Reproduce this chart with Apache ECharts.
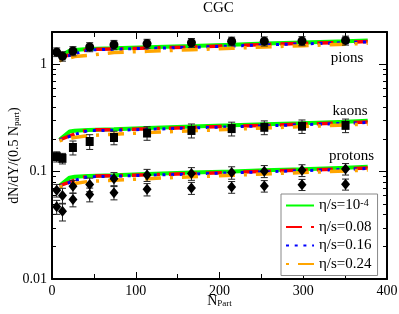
<!DOCTYPE html>
<html>
<head>
<meta charset="utf-8">
<script src="https://cdn.jsdelivr.net/npm/echarts@6/dist/echarts.min.js"></script>
<style>
html,body{margin:0;padding:0;background:#fff;}
#chart{width:399px;height:314px;}
</style>
</head>
<body>
<div id="chart"></div>
<script>
// ---- data ----
const npartData = [5.6, 12.5, 25, 45, 74, 113.5, 166.5, 214.5, 253.5, 298.5, 350.5];
const pions      = [1.30, 1.19, 1.33, 1.45, 1.52, 1.56, 1.59, 1.64, 1.64, 1.65, 1.67];
const pionsErr   = [0.12, 0.12, 0.13, 0.14, 0.15, 0.15, 0.15, 0.15, 0.16, 0.16, 0.16];
const kaons      = [0.138, 0.133, 0.168, 0.191, 0.208, 0.229, 0.242, 0.252, 0.259, 0.265, 0.270];
const kaonsErr   = [0.015, 0.015, 0.025, 0.030, 0.030, 0.033, 0.036, 0.037, 0.038, 0.038, 0.039];
const protons    = [0.067, 0.060, 0.073, 0.076, 0.086, 0.093, 0.096, 0.098, 0.101, 0.103, 0.106];
const protonsErr = [0.009, 0.010, 0.010, 0.011, 0.012, 0.012, 0.013, 0.013, 0.013, 0.013, 0.013];
const pbars      = [0.047, 0.0427, 0.055, 0.0613, 0.0636, 0.0684, 0.0704, 0.0719, 0.0735, 0.0757, 0.0763];
const pbarsErr   = [0.007, 0.008, 0.008, 0.009, 0.009, 0.009, 0.009, 0.009, 0.009, 0.009, 0.009];

const npartModel = [9, 21, 27, 43, 74, 114, 167, 215, 254, 299, 351, 377];
const etaNames = ['η/s=10-4', 'η/s=0.08', 'η/s=0.16', 'η/s=0.24'];
// model curves: [green, red, blue, orange]
const pionModel = [
  [1.18, 1.34, 1.36, 1.39, 1.41, 1.44, 1.48, 1.52, 1.56, 1.60, 1.64, 1.67],
  [1.17, 1.22, 1.26, 1.38, 1.39, 1.42, 1.45, 1.49, 1.53, 1.57, 1.60, 1.63],
  [1.16, 1.21, 1.25, 1.36, 1.38, 1.41, 1.44, 1.48, 1.52, 1.55, 1.59, 1.62],
  [1.08, 1.15, 1.18, 1.21, 1.29, 1.32, 1.37, 1.41, 1.45, 1.49, 1.54, 1.57]
];
const kaonModel = [
  [0.198, 0.237, 0.240, 0.244, 0.248, 0.255, 0.263, 0.270, 0.276, 0.283, 0.292, 0.298],
  [0.198, 0.215, 0.224, 0.245, 0.246, 0.251, 0.258, 0.265, 0.270, 0.277, 0.285, 0.290],
  [0.197, 0.213, 0.222, 0.241, 0.243, 0.248, 0.255, 0.262, 0.267, 0.274, 0.282, 0.287],
  [0.194, 0.203, 0.208, 0.217, 0.223, 0.231, 0.240, 0.248, 0.255, 0.263, 0.272, 0.278]
];
const protonModel = [
  [0.074, 0.088, 0.0895, 0.091, 0.0925, 0.095, 0.098, 0.1005, 0.103, 0.1055, 0.109, 0.111],
  [0.074, 0.080, 0.0835, 0.091, 0.0918, 0.0935, 0.096, 0.0985, 0.1007, 0.1033, 0.1063, 0.108],
  [0.0735, 0.0795, 0.083, 0.0895, 0.0908, 0.0925, 0.095, 0.0975, 0.0997, 0.1022, 0.105, 0.107],
  [0.0725, 0.0755, 0.0776, 0.081, 0.0832, 0.0861, 0.0895, 0.0924, 0.0952, 0.098, 0.1016, 0.1036]
];
const yMajor = [0.01, 0.1, 1];
const yMinor = [0.02,0.03,0.04,0.05,0.06,0.07,0.08,0.09,0.2,0.3,0.4,0.5,0.6,0.7,0.8,0.9,2];

// ---- styles ----
const FONT = '"Liberation Serif", "DejaVu Serif", serif';
const lineStyles = [
  {color: '#00ff00', width: 4, type: 'solid'},
  {color: '#ff0000', width: 3.5, type: [16, 9, 3, 9]},
  {color: '#0000ff', width: 3, type: [3, 5.7]},
  {color: '#ffa500', width: 3.5, type: [3, 9, 16, 9]}
];

const chart = echarts.init(document.getElementById('chart'), null, {renderer: 'canvas'});

const series = [];
const models = [pionModel, kaonModel, protonModel];
for (let e = 0; e < 4; e++) {
  for (let s = 0; s < 3; s++) {
    series.push({
      type: 'line', name: etaNames[e], xAxisIndex: 0, yAxisIndex: 0,
      symbol: 'none', showSymbol: false, silent: true, z: 2 + e * 0.01,
      lineStyle: Object.assign({}, lineStyles[e]),
      itemStyle: {color: lineStyles[e].color},
      data: npartModel.map((x, i) => [x, models[s][e][i]])
    });
  }
}

function errSeries(vals, errs) {
  return {
    type: 'custom', xAxisIndex: 0, yAxisIndex: 0, silent: true, z: 4,
    data: npartData.map((x, i) => [x, vals[i] - errs[i], vals[i] + errs[i]]),
    encode: {x: 0, y: [1, 2]},
    renderItem: function (params, api) {
      const x = api.value(0);
      const p1 = api.coord([x, api.value(2)]);
      const p2 = api.coord([x, api.value(1)]);
      const w = 3.5;
      const st = {stroke: '#222', lineWidth: 1};
      return {type: 'group', children: [
        {type: 'line', shape: {x1: p1[0], y1: p1[1], x2: p2[0], y2: p2[1]}, style: st},
        {type: 'line', shape: {x1: p1[0] - w, y1: p1[1], x2: p1[0] + w, y2: p1[1]}, style: st},
        {type: 'line', shape: {x1: p2[0] - w, y1: p2[1], x2: p2[0] + w, y2: p2[1]}, style: st}
      ]};
    }
  };
}
function markers(vals, symbol, size) {
  return {
    type: 'scatter', xAxisIndex: 0, yAxisIndex: 0, symbol: symbol, symbolSize: size,
    silent: true, z: 5, itemStyle: {color: '#000', opacity: 1},
    data: npartData.map((x, i) => [x, vals[i]])
  };
}
series.push(errSeries(pions, pionsErr), errSeries(kaons, kaonsErr),
            errSeries(protons, protonsErr), errSeries(pbars, pbarsErr));
series.push(markers(pions, 'circle', 9), markers(kaons, 'rect', [8, 9]),
            markers(protons, 'diamond', [9, 11]), markers(pbars, 'diamond', [9, 11]));

const axisLine = {show: true, lineStyle: {color: '#000', width: 2}};
const tickStyle = {color: '#000', width: 1};
const nameRich = {
  a: {fontSize: 14, lineHeight: 14, verticalAlign: 'top', fontFamily: FONT, color: '#000'},
  sub: {fontSize: 9, lineHeight: 9, padding: [8.5, 0, 0, 0], verticalAlign: 'bottom', fontFamily: FONT, color: '#000'}
};

function yAx(pos, major) {
  return {
    type: 'log', logBase: 10, min: 0.01, max: 2, position: pos,
    axisLine: major ? axisLine : {show: false},
    axisTick: {show: true, inside: true, length: major ? 8 : 4, lineStyle: tickStyle,
               customValues: major ? yMajor : yMinor},
    axisLabel: (major && pos === 'left') ? {
      show: true, customValues: yMajor, color: '#000', fontSize: 14, fontFamily: FONT, margin: 5,
      formatter: v => String(v)
    } : {show: false},
    splitLine: {show: false}, minorTick: {show: false}, minorSplitLine: {show: false},
    name: (major && pos === 'left') ? '{a|dN/dY/(0.5 N}{sub|part}{a|)}' : '',
    nameLocation: 'middle', nameGap: 31, nameRotate: 90, nameMoveOverlap: false,
    nameTextStyle: {color: '#000', fontFamily: FONT, rich: nameRich}
  };
}
function xAx(pos) {
  return {
    type: 'value', min: 0, max: 400, interval: 100, position: pos,
    axisLine: axisLine,
    axisTick: {show: true, inside: true, length: 7, lineStyle: tickStyle},
    minorTick: {show: true, splitNumber: 2, length: 5, lineStyle: tickStyle},
    axisLabel: pos === 'bottom' ? {show: true, color: '#000', fontSize: 14, fontFamily: FONT, margin: 5} : {show: false},
    splitLine: {show: false},
    name: pos === 'bottom' ? '{a|N}{sub|Part}' : '',
    nameLocation: 'middle', nameGap: 15, nameMoveOverlap: false,
    nameTextStyle: {color: '#000', fontFamily: FONT, rich: nameRich}
  };
}

const option = {
  animation: false,
  backgroundColor: '#fff',
  title: {text: 'CGC', left: 203, top: 1, padding: 0,
          textStyle: {fontFamily: FONT, fontSize: 15, fontWeight: 'normal', color: '#000'}},
  grid: {left: 52, right: 12, top: 32, bottom: 35, containLabel: false, outerBoundsMode: 'none'},
  xAxis: [xAx('bottom'), xAx('top')],
  yAxis: [yAx('left', true), yAx('left', false), yAx('right', true), yAx('right', false)],
  legend: {
    orient: 'vertical', left: 281, top: 194, padding: [4, 6, 4, 4], itemGap: 3.5,
    itemWidth: 28, itemHeight: 10, backgroundColor: '#fff', borderColor: '#888', borderWidth: 1,
    borderRadius: 0, data: etaNames, selectedMode: false,
    itemStyle: {opacity: 0},
    formatter: name => name === etaNames[0] ? '{a|η/s=10}{sup|-4}' : '{a|' + name + '}',
    textStyle: {color: '#000', fontFamily: FONT, fontSize: 15, rich: {
      a: {fontSize: 15, lineHeight: 15, verticalAlign: 'bottom', fontFamily: FONT, color: '#000'},
      sup: {fontSize: 10, lineHeight: 10, padding: [0, 0, 8, 0], verticalAlign: 'top', fontFamily: FONT, color: '#000'}
    }}
  },
  graphic: [
    {type: 'text', x: 347, y: 58, style: {text: 'pions', textAlign: 'center', textVerticalAlign: 'middle', font: '15px ' + FONT, fill: '#000'}},
    {type: 'text', x: 350, y: 111.5, style: {text: 'kaons', textAlign: 'center', textVerticalAlign: 'middle', font: '15px ' + FONT, fill: '#000'}},
    {type: 'text', x: 351.5, y: 156, style: {text: 'protons', textAlign: 'center', textVerticalAlign: 'middle', font: '15px ' + FONT, fill: '#000'}}
  ],
  series: series
};
chart.setOption(option);
</script>
</body>
</html>
